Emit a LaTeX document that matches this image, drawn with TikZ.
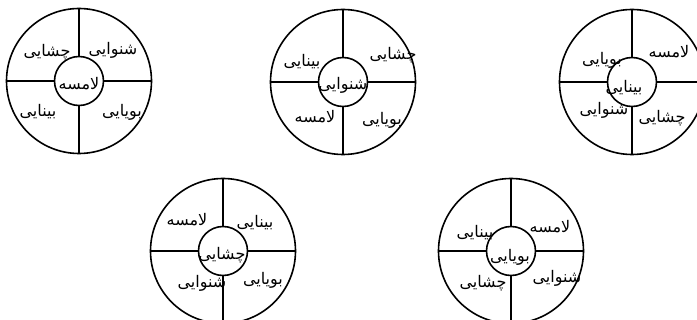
\documentclass[tikz,border=0pt]{standalone}
\usepackage{fontspec}
\newfontfamily\arabicfont[Script=Arabic]{DejaVu Sans}
\TeXXeTstate=1
\newcommand{\fa}[1]{{\arabicfont\beginR #1\endR}}
\tikzset{
	wheel/.style={draw, circle, line width=1.6pt, minimum size=145pt, inner sep=0pt},
	hub/.style={draw, circle, line width=1.6pt, minimum size=49pt, inner sep=0pt},
	spoke/.style={line width=1.6pt},
	sense/.style={inner sep=0pt, font=\fontsize{16}{18}\selectfont},
}

\begin{document}
\begin{tikzpicture}[x=1pt,y=-1pt]
		\useasboundingbox (0,0) rectangle (697,320);
		% first wheel
		\node[wheel] (o1) at (79,81) {};
		\node[hub] (i1) at (79,81) {};
		\draw[spoke] (o1.north) -- (i1.north);
		\draw[spoke] (o1.south) -- (i1.south);
		\draw[spoke] (o1.west) -- (i1.west);
		\draw[spoke] (o1.east) -- (i1.east);
		\node[sense] (c1) at (79,84) {\fa{لامسه}};
		\node[sense] (a1) at (113,50) {\fa{شنوایی}};
		\node[sense] (b1) at (47,52) {\fa{چشایی}};
		\node[sense] (d1) at (38,112) {\fa{بینایی}};
		\node[sense] (e1) at (122,112) {\fa{بویایی}};
		
		% second wheel
		\node[wheel] (o2) at (343,82) {};
		\node[hub] (i2) at (343,82) {};
		\draw[spoke] (o2.north) -- (i2.north);
		\draw[spoke] (o2.south) -- (i2.south);
		\draw[spoke] (o2.west) -- (i2.west);
		\draw[spoke] (o2.east) -- (i2.east);
		\node[sense] (c2) at (343,85) {\fa{شنوایی}};
		\node[sense] (a2) at (393,55) {\fa{چشایی}};
		\node[sense] (b2) at (302,62) {\fa{بینایی}};
		\node[sense] (d2) at (315,117) {\fa{لامسه}};
		\node[sense] (e2) at (382,120) {\fa{بویایی}};
		
		% third wheel
		\node[wheel] (o3) at (632,82) {};
		\node[hub] (i3) at (632,82) {};
		\draw[spoke] (o3.north) -- (i3.north);
		\draw[spoke] (o3.south) -- (i3.south);
		\draw[spoke] (o3.west) -- (i3.west);
		\draw[spoke] (o3.east) -- (i3.east);
		\node[sense] (c3) at (624,88) {\fa{بینایی}};
		\node[sense] (a3) at (669,52) {\fa{لامسه}};
		\node[sense] (b3) at (602,60) {\fa{بویایی}};
		\node[sense] (d3) at (604,110) {\fa{شنوایی}};
		\node[sense] (e3) at (662,118) {\fa{چشایی}};
		
		% fourth wheel
		\node[wheel] (o4) at (223,251) {};
		\node[hub] (i4) at (223,251) {};
		\draw[spoke] (o4.north) -- (i4.north);
		\draw[spoke] (o4.south) -- (i4.south);
		\draw[spoke] (o4.west) -- (i4.west);
		\draw[spoke] (o4.east) -- (i4.east);
		\node[sense] (c4) at (222,255) {\fa{چشایی}};
		\node[sense] (a4) at (255,223) {\fa{بینایی}};
		\node[sense] (b4) at (187,220) {\fa{لامسه}};
		\node[sense] (d4) at (202,283) {\fa{شنوایی}};
		\node[sense] (e4) at (263,280) {\fa{بویایی}};
		
		% fifth wheel
		\node[wheel] (o5) at (511,251) {};
		\node[hub] (i5) at (511,251) {};
		\draw[spoke] (o5.north) -- (i5.north);
		\draw[spoke] (o5.south) -- (i5.south);
		\draw[spoke] (o5.west) -- (i5.west);
		\draw[spoke] (o5.east) -- (i5.east);
		\node[sense] (c5) at (510,257) {\fa{بویایی}};
		\node[sense] (a5) at (550,227) {\fa{لامسه}};
		\node[sense] (b5) at (475,233) {\fa{بینایی}};
		\node[sense] (d5) at (483,283) {\fa{چشایی}};
		\node[sense] (e5) at (557,278) {\fa{شنوایی}};
\end{tikzpicture}
\end{document}
